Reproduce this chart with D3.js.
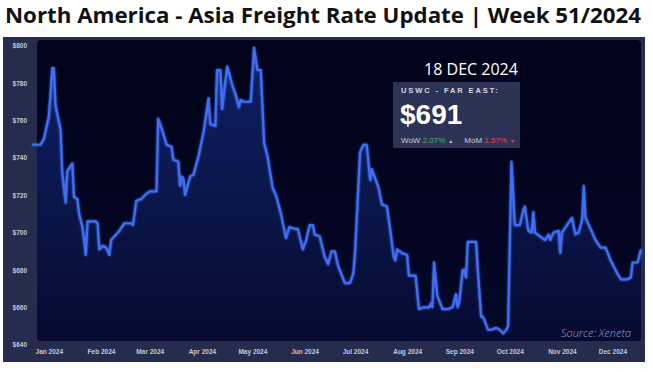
<!DOCTYPE html>
<html>
<head>
<meta charset="utf-8">
<script src="https://cdn.jsdelivr.net/npm/d3@7"></script>
<style>
  html, body { margin: 0; padding: 0; background: #ffffff; }
  svg { display: block; }
</style>
</head>
<body>
<svg id="chart" width="653" height="372"></svg>
<script>
// ---- data ----
const dates = [
  "2023-12-22","2023-12-27","2023-12-29","2024-01-01","2024-01-02","2024-01-03","2024-01-04","2024-01-05",
  "2024-01-08","2024-01-09","2024-01-11","2024-01-12","2024-01-15","2024-01-16","2024-01-18","2024-01-19",
  "2024-01-21","2024-01-23","2024-01-24","2024-01-29","2024-01-30","2024-01-31","2024-02-02","2024-02-04",
  "2024-02-06","2024-02-07","2024-02-10","2024-02-12","2024-02-15","2024-02-19","2024-02-20","2024-02-22",
  "2024-02-25","2024-02-27","2024-03-01","2024-03-05","2024-03-06","2024-03-08","2024-03-11","2024-03-14",
  "2024-03-15","2024-03-18","2024-03-19","2024-03-20","2024-03-21","2024-03-22","2024-03-25","2024-03-27",
  "2024-03-30","2024-04-02","2024-04-05","2024-04-06","2024-04-09","2024-04-10","2024-04-12","2024-04-13",
  "2024-04-16","2024-04-17","2024-04-19","2024-04-21","2024-04-23","2024-04-24","2024-04-26","2024-04-30",
  "2024-05-02","2024-05-04","2024-05-06","2024-05-08","2024-05-10","2024-05-13","2024-05-15","2024-05-18",
  "2024-05-21","2024-05-23","2024-05-26","2024-05-28","2024-05-31","2024-06-02","2024-06-04","2024-06-06",
  "2024-06-07","2024-06-10","2024-06-13","2024-06-15","2024-06-17","2024-06-19","2024-06-21","2024-06-25",
  "2024-06-28","2024-06-30","2024-07-01","2024-07-03","2024-07-04","2024-07-06","2024-07-08","2024-07-10",
  "2024-07-11","2024-07-13","2024-07-15","2024-07-17","2024-07-20","2024-07-22","2024-07-24","2024-07-25",
  "2024-07-26","2024-07-29","2024-08-01","2024-08-02","2024-08-06","2024-08-08","2024-08-11","2024-08-14",
  "2024-08-15","2024-08-16","2024-08-17","2024-08-19","2024-08-22","2024-08-25","2024-08-28","2024-08-30",
  "2024-08-31","2024-09-01","2024-09-03","2024-09-04","2024-09-05","2024-09-06","2024-09-11","2024-09-12",
  "2024-09-14","2024-09-15","2024-09-16","2024-09-18","2024-09-20","2024-09-23","2024-09-25","2024-09-27",
  "2024-09-29","2024-09-30","2024-10-02","2024-10-03","2024-10-04","2024-10-07","2024-10-09","2024-10-10",
  "2024-10-12","2024-10-14","2024-10-15","2024-10-16","2024-10-19","2024-10-22","2024-10-24","2024-10-25",
  "2024-10-27","2024-10-30","2024-10-31","2024-11-01","2024-11-04","2024-11-07","2024-11-09","2024-11-11",
  "2024-11-13","2024-11-14","2024-11-15","2024-11-18","2024-11-21","2024-11-24","2024-11-27","2024-11-30",
  "2024-12-04","2024-12-06","2024-12-10","2024-12-12","2024-12-13","2024-12-16","2024-12-18"
];
const rates = [
  747,747,750,762,774,788,788,768,
  755,732,716,733,737,719,718,710,
  703,688,706,706,705,691,693,692,
  688,696,699,701,705,705,704,717,
  718,720,722,722,761,756,747,746,
  739,738,725,730,729,720,730,731,
  741,754,772,758,757,787,787,766,
  789,786,779,774,767,771,770,770,
  799,787,787,748,741,724,720,710,
  697,703,702,702,691,696,704,704,
  699,698,687,683,690,690,682,673,
  673,678,689,725,743,747,747,728,
  734,729,724,715,714,701,687,685,
  691,689,688,677,677,659,660,660,
  662,660,684,666,659,659,660,667,
  660,663,680,680,676,695,695,680,
  655,655,653,648,648,649,648,646,
  648,650,738,722,704,704,712,714,
  701,700,711,700,698,696,699,696,
  700,701,689,700,704,708,699,700,
  707,725,708,702,696,692,692,685,
  678,675,675,676,684,684,691
];
const yTicks = [640, 660, 680, 700, 720, 740, 760, 780, 800];
const monthTicks = ["2024-01-01","2024-02-01","2024-03-01","2024-04-01","2024-05-01","2024-06-01",
                    "2024-07-01","2024-08-01","2024-09-01","2024-10-01","2024-11-01","2024-12-01"];
const titleText = "North America - Asia Freight Rate Update | Week 51/2024";
const calloutDate = "18 DEC 2024";
const calloutRoute = "USWC - FAR EAST:";
const calloutValue = "$691";
const wowValue = "2.07%";
const momValue = "1.57%";
const sourceText = "Source: Xeneta";

// ---- chart ----
const parse = d3.utcParse("%Y-%m-%d");
const series = dates.map((d, i) => ({ date: parse(d), value: rates[i] }));

const svg = d3.select("#chart");

const x = d3.scaleUtc()
  .domain([parse("2023-12-22"), parse("2024-12-18")])
  .range([32, 641]);
const y = d3.scaleLinear()
  .domain([640, 800])
  .range([344.7, 45.7]);

// title
svg.append("text")
  .attr("x", 5).attr("y", 23)
  .attr("font-family", "'Open Sans', sans-serif")
  .attr("font-weight", 700)
  .attr("font-size", 22)
  .attr("textLength", 636)
  .attr("lengthAdjust", "spacingAndGlyphs")
  .attr("fill", "#111111")
  .text(titleText);

// panels
svg.append("rect")
  .attr("x", 3).attr("y", 37).attr("width", 642).attr("height", 325)
  .attr("fill", "#262c4e");

const defs = svg.append("defs");
const grad = defs.append("linearGradient")
  .attr("id", "areaGrad").attr("x1", 0).attr("y1", 0).attr("x2", 0).attr("y2", 1);
grad.append("stop").attr("offset", "0%").attr("stop-color", "#0f1f66");
grad.append("stop").attr("offset", "55%").attr("stop-color", "#0a1548");
grad.append("stop").attr("offset", "100%").attr("stop-color", "#060a30");

const bgGrad = defs.append("linearGradient")
  .attr("id", "bgGrad").attr("x1", 0).attr("y1", 0).attr("x2", 0).attr("y2", 1);
bgGrad.append("stop").attr("offset", "0%").attr("stop-color", "#02031a");
bgGrad.append("stop").attr("offset", "100%").attr("stop-color", "#040726");

defs.append("clipPath").attr("id", "plotClip")
  .append("rect").attr("x", 37).attr("y", 40).attr("width", 604).attr("height", 301).attr("rx", 4);

const glow = defs.append("filter").attr("id", "glow")
  .attr("x", "-5%").attr("y", "-5%").attr("width", "110%").attr("height", "110%");
glow.append("feGaussianBlur").attr("stdDeviation", 1.2).attr("result", "b");
const merge = glow.append("feMerge");
merge.append("feMergeNode").attr("in", "b");
merge.append("feMergeNode").attr("in", "SourceGraphic");

svg.append("rect")
  .attr("x", 37).attr("y", 40).attr("width", 604).attr("height", 301).attr("rx", 4)
  .attr("fill", "url(#bgGrad)");

const area = d3.area()
  .x(d => x(d.date))
  .y0(y(640))
  .y1(d => y(d.value));
svg.append("path")
  .datum(series)
  .attr("clip-path", "url(#plotClip)")
  .attr("d", area)
  .attr("fill", "url(#areaGrad)");

const line = d3.line()
  .x(d => x(d.date))
  .y(d => y(d.value));
svg.append("path")
  .datum(series)
  .attr("d", line)
  .attr("fill", "none")
  .attr("stroke", "#3f6ef2")
  .attr("stroke-width", 2.2)
  .attr("stroke-linejoin", "round")
  .attr("filter", "url(#glow)");

// axes
const yAxis = svg.append("g")
  .attr("transform", "translate(27,0)")
  .call(d3.axisLeft(y).tickValues(yTicks).tickSize(0).tickPadding(0).tickFormat(d => "$" + d));
yAxis.select(".domain").remove();
yAxis.selectAll("text")
  .attr("fill", "#c3c7da")
  .attr("font-family", "'Liberation Sans', Arial, sans-serif")
  .attr("font-weight", 700)
  .attr("font-size", 6.5);

const xAxis = svg.append("g")
  .attr("transform", "translate(0,349.5)")
  .call(d3.axisBottom(x).tickValues(monthTicks.map(parse)).tickSize(0).tickPadding(0)
    .tickFormat(d3.utcFormat("%b %Y")));
xAxis.select(".domain").remove();
xAxis.selectAll("text")
  .attr("fill", "#c3c7da")
  .attr("font-family", "'Liberation Sans', Arial, sans-serif")
  .attr("font-weight", 700)
  .attr("font-size", 6.5);

// callout
svg.append("text")
  .attr("x", 471).attr("y", 75)
  .attr("text-anchor", "middle")
  .attr("font-family", "'Open Sans', sans-serif")
  .attr("font-size", 16)
  .attr("fill", "#ffffff")
  .text(calloutDate);

svg.append("rect")
  .attr("x", 393).attr("y", 82).attr("width", 127).attr("height", 66)
  .attr("fill", "#2d3355");

svg.append("text")
  .attr("x", 401).attr("y", 93)
  .attr("font-family", "'Liberation Sans', Arial, sans-serif")
  .attr("font-weight", 700)
  .attr("font-size", 7.5)
  .attr("letter-spacing", 1.9)
  .attr("fill", "#d5d8e6")
  .text(calloutRoute);

svg.append("text")
  .attr("x", 400).attr("y", 124)
  .attr("font-family", "'Liberation Sans', Arial, sans-serif")
  .attr("font-weight", 700)
  .attr("font-size", 28)
  .attr("fill", "#ffffff")
  .text(calloutValue);

const chg = svg.append("text")
  .attr("x", 401).attr("y", 143)
  .attr("font-family", "'Liberation Sans', Arial, sans-serif")
  .attr("font-size", 8)
  .attr("fill", "#c9ccdb");
chg.append("tspan").text("WoW ");
chg.append("tspan").attr("fill", "#3dba6a").text(wowValue);
chg.append("tspan").attr("fill", "#c9ccdb").attr("font-size", 5).attr("dx", 3).text("\u25B2");
chg.append("tspan").attr("dx", 11).attr("font-size", 8).text("MoM ");
chg.append("tspan").attr("fill", "#e0455a").text(momValue);
chg.append("tspan").attr("fill", "#e0455a").attr("font-size", 5).attr("dx", 3).text("\u25BC");

// source
svg.append("text")
  .attr("x", 631).attr("y", 337)
  .attr("text-anchor", "end")
  .attr("font-family", "'Open Sans', sans-serif")
  .attr("font-style", "italic")
  .attr("font-weight", 300)
  .attr("font-size", 11)
  .attr("fill", "#9ea3bd")
  .text(sourceText);
</script>
</body>
</html>
